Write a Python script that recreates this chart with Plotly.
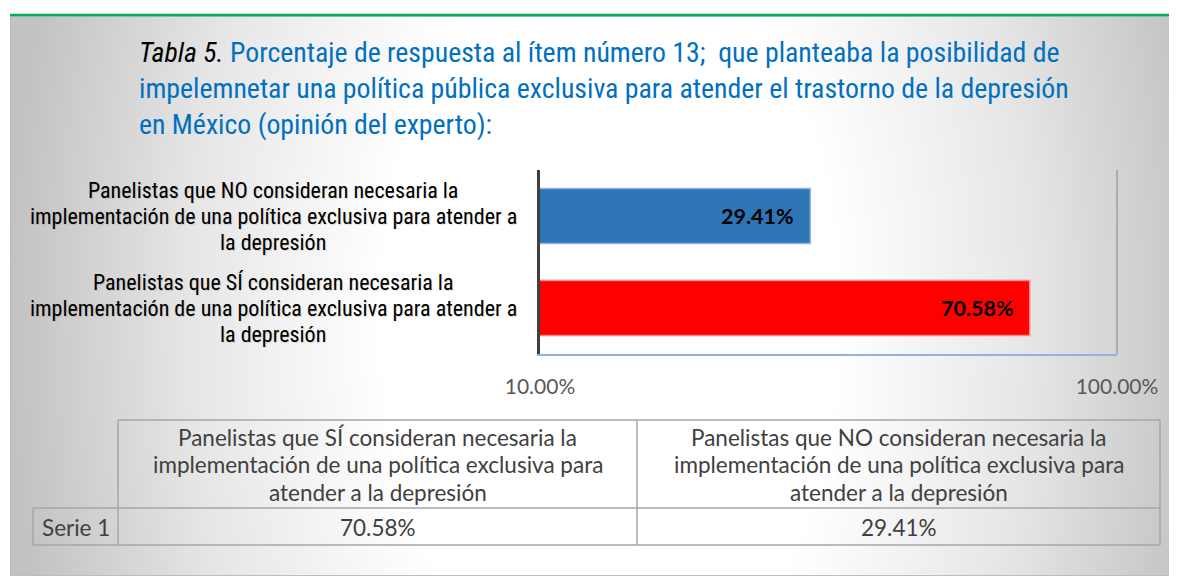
import base64
import math
import textwrap
import plotly.graph_objects as go

# ---------------- data ----------------
categories = [
    "Panelistas que SÍ consideran necesaria la implementación de una política exclusiva para atender a la depresión",
    "Panelistas que NO consideran necesaria la implementación de una política exclusiva para atender a la depresión",
]
values = [0.7058, 0.2941]
bar_colors = ["#FF0000", "#2E75B6"]
bar_line_colors = ["#FF8080", "#8FB4E3"]
series_name = "Serie 1"
tick_values = [0.10, 1.00]
title_lines = [
    ("Tabla 5.", "Porcentaje de respuesta al ítem número 13;&nbsp; que planteaba la posibilidad de"),
    ("", "impelemnetar una política pública exclusiva para atender el trastorno de la depresión"),
    ("", "en México (opinión del experto):"),
]

# ---------------- layout helpers ----------------
OFF = 8  # page body margin
PW, PH = 1177, 576
FW, FH = PW - OFF, PH - OFF
# plot area in page pixels
L, T, R, B = 540, 170, 1117, 354
W, H = R - L, B - T


def px(x):
    return (x - L) / W


def py(y):
    return 1 - (y - T) / H


NARROW = "Liberation Sans Narrow, Arial Narrow, Roboto Condensed, Liberation Sans, Arial"
CAL = "Lato, Carlito, Calibri, Open Sans, sans-serif"

fig = go.Figure()
fig.add_trace(go.Bar(
    y=categories, x=values, orientation="h",
    marker=dict(color=bar_colors, line=dict(color=bar_line_colors, width=1.5)),
    width=0.6, showlegend=False, hoverinfo="x+y",
))

annotations = []
# data labels
for c, v in zip(categories, values):
    annotations.append(dict(
        x=math.log10(v), y=c, xref="x", yref="y", text=f"{v:.2%}",
        xanchor="right", yanchor="middle", xshift=-14, showarrow=False,
        font=dict(family=CAL, size=21.5, color="#000000", weight="bold"),
    ))
# category labels (one annotation per line)
for c in categories:
    lines = textwrap.wrap(c, 55)
    n = len(lines)
    for k, line in enumerate(lines):
        annotations.append(dict(
            x=px(273), y=c, xref="paper", yref="y", text=line,
            yshift=((n - 1) / 2 - k) * 26, align="center",
            xanchor="center", yanchor="middle", showarrow=False,
            font=dict(family=NARROW, size=22, color="#000000",
                      shadow="1px 1px 1px rgba(0,0,0,0.12)"),
        ))
# title
for i, (ital, rest) in enumerate(title_lines):
    txt = (f"<i>{ital}</i> " if ital else "") + f"<span style='color:#0070C0'>{rest}</span>"
    annotations.append(dict(
        x=px(137), y=py(52 + 36 * i), xref="paper", yref="paper", text=txt,
        xanchor="left", yanchor="middle", showarrow=False, align="left",
        font=dict(family=NARROW, size=27.8, color="#000000"),
    ))

# data table
col_x = [33, 118, 637, 1160]
row_y = [420, 508, 545]
tfont = dict(family=CAL, size=22.5, color="#404040")
for j, c in enumerate(categories):
    cx = (col_x[j + 1] + col_x[j + 2]) / 2
    for k, line in enumerate(textwrap.wrap(c, 46)):
        annotations.append(dict(
            x=px(cx), y=py(437 + 27.5 * k), xref="paper", yref="paper", text=line,
            xanchor="center", yanchor="middle", showarrow=False, font=tfont,
        ))
    annotations.append(dict(
        x=px(cx), y=py(527), xref="paper", yref="paper", text=f"{values[j]:.2%}",
        xanchor="center", yanchor="middle", showarrow=False, font=tfont,
    ))
annotations.append(dict(
    x=px((col_x[0] + col_x[1]) / 2), y=py(527), xref="paper", yref="paper", text=series_name,
    xanchor="center", yanchor="middle", showarrow=False, font=tfont,
))

shapes = []
lc = "#A6A6A6"


def hline(x0, x1, y, color=lc, width=1.5):
    shapes.append(dict(type="line", xref="paper", yref="paper", x0=px(x0), x1=px(x1),
                       y0=py(y), y1=py(y), line=dict(color=color, width=width)))


def vline(x, y0, y1, color=lc, width=1.5):
    shapes.append(dict(type="line", xref="paper", yref="paper", x0=px(x), x1=px(x),
                       y0=py(y0), y1=py(y1), line=dict(color=color, width=width)))


hline(col_x[1], col_x[3], row_y[0])
hline(col_x[0], col_x[3], row_y[1])
hline(col_x[0], col_x[3], row_y[2])
vline(col_x[0], row_y[1], row_y[2])
for xx in col_x[1:]:
    vline(xx, row_y[0], row_y[2])
# right border of plot area
vline(R, T, B, color="#A0A0A0", width=1.5)
# green top line
hline(10, PW + 5, 15, color="#00B050", width=2.5)

# gradient background as svg image
bx0, by0, bx1, by1 = 10, 16, PW + 2, 576
bw, bh = bx1 - bx0, by1 - by0
svg = f"""<svg xmlns='http://www.w3.org/2000/svg' width='{bw}' height='{bh}'>
<defs><radialGradient id='g' gradientUnits='userSpaceOnUse' cx='600' cy='300' r='600'
 gradientTransform='translate(600,300) scale(1,1.7) translate(-600,-300)'>
<stop offset='0' stop-color='#ffffff'/><stop offset='0.38' stop-color='#ffffff'/>
<stop offset='0.7' stop-color='#e6e6e6'/><stop offset='1' stop-color='#c2c2c2'/>
</radialGradient></defs>
<rect x='0' y='0' width='{bw}' height='{bh}' fill='url(#g)'/>
<rect x='0.5' y='0.5' width='{bw-1}' height='{bh-1}' fill='none' stroke='#bdbdbd' stroke-width='1'/>
</svg>"""
src = "data:image/svg+xml;base64," + base64.b64encode(svg.encode()).decode()
images = [dict(source=src, xref="paper", yref="paper", x=px(bx0), y=py(by0),
               sizex=bw / W, sizey=bh / H, xanchor="left", yanchor="top",
               sizing="stretch", layer="below")]

fig.update_layout(
    width=FW, height=FH,
    margin=dict(l=L - OFF, r=FW - (R - OFF), t=T - OFF, b=FH - (B - OFF), pad=0),
    paper_bgcolor="#ffffff", plot_bgcolor="rgba(0,0,0,0)",
    bargap=0.4,
    xaxis=dict(type="log", range=[-1, 0], tickvals=tick_values, tickformat=".2%",
               showgrid=False, zeroline=False, showline=True, linecolor="#8DB4E2", linewidth=1.5,
               ticks="outside", ticklen=13, tickcolor="rgba(0,0,0,0)",
               tickfont=dict(family=CAL, size=21, color="#595959"), fixedrange=True),
    yaxis=dict(showticklabels=False, showgrid=False, zeroline=False, showline=True,
               linecolor="#404040", linewidth=3, range=[-0.5, 1.5], fixedrange=True),
    annotations=annotations, shapes=shapes, images=images,
)

fig.write_html("out.html")
